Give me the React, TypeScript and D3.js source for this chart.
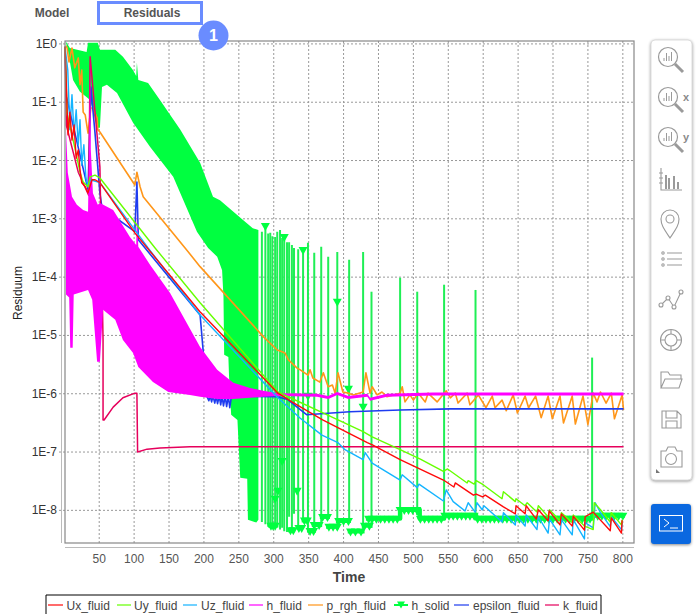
import React from "react";
import * as d3 from "d3";

// all series are [time, log10(residual)]
const xTicks = [50, 100, 150, 200, 250, 300, 350, 400, 450, 500, 550, 600, 650, 700, 750, 800];
const yExponents = [0, -1, -2, -3, -4, -5, -6, -7, -8];

const uxFluid = [[1, -0.05], [4, -1.1], [5.3, -1.56], [8, -1.17], [11, -1.65], [14, -1.39], [17, -1.96], [20, -1.82], [22.5, -2.16], [25, -2.38], [30, -2.45], [34, -2.55], [39.7, -2.33], [44, -2.33], [51, -2.38], [101, -3.24], [194, -4.59], [306, -5.99], [326, -6.14], [370, -6.45], [434, -6.84], [442, -6.88], [481, -7.13], [543, -7.48], [558, -7.6], [560, -7.53], [586, -7.74], [590, -7.72], [599, -7.77], [603, -7.74], [629, -7.94], [646, -8.06], [647, -7.92], [660, -8.06], [661.5, -7.92], [676, -8.15], [679, -7.99], [693, -8.18], [694.5, -8.01], [710, -8.25], [712, -8.06], [727.5, -8.27], [729, -8.1], [745, -8.34], [746, -8.11], [757.5, -8.03], [782, -8.35], [783.5, -8.13], [798, -8.39], [799, -8.17]];
const uyFluid = [[1, -0.05], [4, -1.2], [11, -1.56], [15, -1.78], [22.5, -2.2], [27, -2.37], [34, -2.45], [37, -2.28], [44, -2.25], [51, -2.3], [130, -3.5], [194.5, -4.44], [306, -5.97], [392, -6.45], [428, -6.65], [441, -6.74], [481, -6.96], [510, -7.12], [543, -7.33], [549, -7.29], [577, -7.53], [578.5, -7.49], [587, -7.55], [590, -7.49], [600, -7.56], [627, -7.8], [629, -7.68], [646, -7.85], [647, -7.8], [660, -7.92], [663, -7.87], [677, -8.03], [679, -7.92], [693, -8.11], [695, -7.99], [710, -8.18], [712, -8.04], [727.5, -8.21], [729, -8.08], [745, -8.27], [757.6, -8.33], [759, -7.87], [768, -7.99], [782, -8.2], [783.5, -8.04], [798, -8.25], [799, -8.16]];
const uzFluid = [[1, -0.05], [5, -0.45], [8, -1.47], [11, -0.87], [14, -1.56], [17, -1.13], [20, -1.73], [22.5, -1.3], [25, -2.08], [28, -1.73], [31, -2.3], [34, -2.45], [37, -2.33], [51, -2.38], [101, -3.19], [120, -3.5], [194.5, -4.65], [306, -6.07], [338, -6.42], [369, -6.71], [392, -6.84], [402, -6.96], [428, -7.13], [431, -7.01], [441, -7.19], [481, -7.48], [484, -7.39], [505.5, -7.61], [508, -7.55], [543, -7.84], [547, -7.65], [557, -7.85], [574, -8.01], [578.5, -7.87], [588.5, -8.03], [591, -7.87], [598.6, -7.99], [601, -7.92], [627, -8.2], [629, -8.04], [646, -8.25], [647, -8.08], [660, -8.27], [661.6, -8.08], [677, -8.33], [679, -8.11], [693, -8.39], [695, -8.15], [710, -8.42], [712, -8.16], [727.5, -8.42], [729, -8.16], [745, -8.49], [746, -8.21], [757.6, -8.3], [760.5, -7.87], [768, -8.04], [782, -8.28], [783.5, -8.11], [798, -8.33], [799, -8.21]];
const pRghFluid = [[2.4, -0.03], [4, -0.07], [6.7, -0.31], [11, -0.07], [15, -0.41], [20, -0.24], [22.5, -0.7], [25, -0.45], [27, -1.17], [30, -1.22], [34, -1.53], [38, -1.1], [41, -1.1], [47, -1.27], [48, -1.47], [51, -1.51], [101, -2.42], [104, -2.2], [108.5, -2.45], [113, -2.62], [173, -3.5], [194.5, -3.82], [285, -5.02], [305, -5.25], [312, -5.28], [316, -5.3], [321, -5.42], [333.5, -5.56], [338, -5.59], [349, -5.68], [352, -5.59], [356, -5.73], [366, -5.8], [371, -5.64], [378, -5.88], [384, -5.85], [388, -5.99], [392, -5.64], [399, -5.97], [407, -5.99], [414, -6.02], [428, -5.97], [432, -5.64], [438, -5.99], [441, -5.88], [448, -6.02], [455, -5.97], [462, -6.05], [481, -5.99], [484, -5.88], [488, -6.14], [495, -6.02], [500, -6.11], [507, -5.99], [517, -6.14], [521, -5.99], [534, -6.14], [547, -5.95], [553, -6.07], [560, -5.99], [564, -6.16], [577, -5.99], [581, -6.19], [593, -6.02], [604, -6.24], [613, -6.04], [617, -6.24], [627, -6.11], [633, -6.29], [643, -6.02], [649, -6.33], [660, -6.04], [665, -6.24], [675, -6.04], [683, -6.41], [693, -6.04], [699, -6.43], [710, -6.04], [715, -6.5], [727.5, -6.04], [732, -6.52], [743, -6.04], [750, -6.53], [757.6, -5.99], [763, -6.14], [768, -5.97], [776, -6.16], [783.5, -5.99], [788, -6.43], [799, -6.02], [801, -6.28]];
const epsilonFluid = [[1, -0.05], [3, -0.9], [34, -2.5], [38, -0.74], [44, -1.53], [51, -2.56], [54, -2.81], [101, -3.22], [104, -2.37], [106, -3.36], [194.5, -4.65], [204.5, -6.05], [207, -6.12], [209, -6.04], [211, -6.14], [213, -6.04], [215.5, -6.16], [217.5, -6.04], [219.5, -6.17], [222, -6.04], [224, -6.19], [226, -6.04], [228, -6.21], [230.5, -6.04], [232.5, -6.22], [235, -6.04], [237, -6.24], [239.5, -6.04], [305, -6.05], [320, -6.1], [347, -6.36], [409, -6.31], [481, -6.28], [553, -6.26], [801, -6.26]];
const kFluid = [[1, -0.05], [3, -1.4], [20, -2.2], [35, -2.6], [37, -0.22], [51, -2.11], [55.5, -5.08], [55.5, -6.45], [57, -6.45], [70, -6.23], [84, -6.07], [101, -5.99], [104, -5.99], [105, -7], [118.5, -6.95], [137, -6.93], [180, -6.91], [801, -6.91]];

// h_fluid oscillates too fast to read one by one, so its upper and lower envelope
const hFluidUpper = [[2.4, -1.47], [5, -2.21], [11, -2.62], [18, -2.76], [27, -2.85], [34, -2.88], [35.4, -1.82], [37, -0.22], [38, -1.82], [41, -2.56], [48, -2.76], [51, -2.73], [70, -2.85], [94, -3.31], [103, -3.45], [104, -2.9], [106, -3.48], [123, -3.79], [151.5, -4.27], [194.5, -5.2], [219, -5.59], [242, -5.81], [266, -5.9], [285, -5.95], [305, -5.99], [313, -5.99], [362, -6], [378, -6.04], [391, -5.97], [407, -6.04], [434, -6], [438, -6.07], [462, -6], [528, -5.98], [801, -5.98]];
const hFluidLower = [[2.4, -4.3], [7, -4.35], [8.5, -5.21], [12, -5.21], [13.5, -4.3], [34, -4.22], [40, -4.39], [47, -5.45], [51, -5.45], [55.5, -4.56], [73, -4.73], [84, -5.08], [98.5, -5.3], [106, -5.54], [127, -5.8], [149, -5.97], [180, -6.02], [194.5, -6.05], [219, -6.09], [242, -6.09], [266, -6.07], [285, -6.05], [305, -6.04], [313, -6.04], [362, -6.05], [378, -6.09], [391, -6.02], [407, -6.09], [434, -6.05], [438, -6.12], [462, -6.05], [528, -6.03], [801, -6.03]];

// h_solid: envelope of the dense part, then single spikes [time, top, bottom]
const hSolidUpper = [[1.7, 0.05], [8, -0.07], [32, -0.14], [34, 0.02], [48, 0.02], [51, -0.1], [73, -0.1], [84, -0.22], [98.5, -0.45], [103, -0.55], [104, -0.32], [106, -0.62], [120, -0.67], [137, -0.96], [166, -1.47], [194.5, -2.04], [213, -2.62], [223, -2.68], [256, -3.02], [270, -3.16], [278, -3.19]];
const hSolidLower = [[5, -0.1], [12.5, -0.62], [22.5, -0.82], [37, -0.96], [47, -1.44], [51, -1.44], [54, -0.74], [61, -0.7], [75.5, -0.84], [98.5, -1.35], [123, -1.77], [156, -2.28], [190, -3.22], [206, -3.5], [219, -3.65], [226, -3.88], [228, -4.34], [229, -5.33], [235, -5.37], [236, -5.71], [239, -6.36], [248, -6.45], [252, -7.44], [262, -7.46], [263, -8.16], [275, -8.21], [278, -8.16]];
const hSolidSpikes = [[283, -3.22, -8.2], [288, -3.14, -8.24], [292, -3.25, -8.28], [295, -3.24, -8.3], [298, -3.3, -8.28], [302, -3.31, -8.25], [305, -3.22, -8.28], [309, -3.19, -8.33], [312, -3.33, -8.3], [315, -3.35, -8.36], [319, -3.4, -8.37], [322, -3.4, -8.11], [326, -3.45, -8.34], [329, -3.5, -8.06], [335, -3.52, -8.32], [342, -3.53, -8.2], [349, -3.41, -8.37], [358, -3.58, -8.39], [368, -3.48, -8.28], [378, -3.65, -8.15], [391, -3.57, -8.33], [408, -3.7, -8.21], [428, -3.57, -8.39], [440, -4.25, -8.3], [481, -4.01, -8.08], [505.5, -4.25, -8.08], [544, -4.13, -8.13], [589, -4.22, -8.11], [756, -5.38, -8.08]];
const hSolidMarkers = [[288, -3.14], [315, -3.33], [342, -3.55], [391, -4.44], [407, -5.93], [428, -6.24], [349, -6.05], [312, -7.17], [306, -7.68], [302, -7.82], [333.5, -7.68], [296, -8.28], [302, -8.28], [299, -8.28], [324, -8.36], [328, -8.36], [336, -8.32], [340, -8.32], [344, -8.19], [348, -8.19], [352, -8.37], [357, -8.37], [358, -8.27], [365, -8.27], [370, -8.13], [377, -8.13], [379, -8.3], [385, -8.3], [391, -8.3], [393, -8.2], [400, -8.2], [407, -8.2], [410, -8.38], [417, -8.38], [425, -8.38], [430, -8.28], [437, -8.28]];
const hSolidFloorLeft = [[292, 306.5, -8.28], [320.6, 330.6, -8.36], [333, 342, -8.32], [340, 351, -8.19], [348, 360, -8.37], [354.5, 369, -8.27], [366, 380.5, -8.13], [375, 393, -8.3], [389, 410.5, -8.2], [406, 430, -8.38], [426, 441, -8.28]];
const floorA = [436, 441, 447, 453, 459, 465, 471, 477];
const floorB = [481, 487, 493, 499, 505];
const floorC = [510, 516, 522, 528, 534, 540];
const floorD = [545, 551, 557, 563, 569, 575, 581, 587];
const floorE = [592, 598, 604, 610, 616, 622, 628, 634, 640, 646, 652, 658, 664, 670, 676, 682, 688, 694, 700, 706, 712, 718, 724, 730, 736, 742, 748, 753];
const floorF = [758, 764, 770, 776, 782, 788, 794, 800];
const floorLine = [[432, -8.14], [481, -8.14], [481, -7.99], [509, -7.99], [509, -8.14], [544, -8.14], [544, -8.09], [590, -8.09], [590, -8.14], [756, -8.14], [756, -8.09], [803, -8.09]];

const seriesColors = { ux: "#ff0a0a", uy: "#66ff00", uz: "#14b4ff", h: "#ff00ff", p: "#ff9619", solid: "#00ff40", eps: "#1e3cf0", k: "#e6005c" };

const legendItems = [
  { name: "Ux_fluid", color: seriesColors.ux, x1: 48, x2: 63, tx: 66.5 },
  { name: "Uy_fluid", color: seriesColors.uy, x1: 117, x2: 131, tx: 134 },
  { name: "Uz_fluid", color: seriesColors.uz, x1: 183, x2: 197, tx: 201 },
  { name: "h_fluid", color: seriesColors.h, x1: 249, x2: 263, tx: 266.5 },
  { name: "p_rgh_fluid", color: seriesColors.p, x1: 308, x2: 323, tx: 326.5 },
  { name: "h_solid", color: seriesColors.solid, x1: 394, x2: 408, tx: 411.5, marker: true },
  { name: "epsilon_fluid", color: seriesColors.eps, x1: 454, x2: 469, tx: 473 },
  { name: "k_fluid", color: seriesColors.k, x1: 545, x2: 559, tx: 563 },
];

const FONT = '"Liberation Sans", Arial, sans-serif';
const LEFT = 65;
const RIGHT = 634;
const TOP = 41;
const BOTTOM = 543;
const ICON = "#9a9a9a";

const x = d3.scaleLinear().domain([1, 816]).range([LEFT, RIGHT]);
const y = d3.scaleLog().domain([10 ** 0.05, 10 ** -8.56]).range([TOP, BOTTOM]);
const line = d3.line<number[]>().x((d) => x(d[0])).y((d) => y(10 ** d[1]));
const band = (upper: number[][], lower: number[][]) => line([...upper, ...[...lower].reverse()]) + "Z";
const triangle = "M-4.5,-4L4.5,-4L0,4Z";

function Series({ data, color, width = 1.4 }: { data: number[][]; color: string; width?: number }) {
  return <path d={line(data) || ""} fill="none" stroke={color} strokeWidth={width} strokeLinejoin="round" />;
}

function Lens({ cx, cy, label }: { cx: number; cy: number; label?: string }) {
  return (
    <g transform={`translate(${cx},${cy})`} fill="none" stroke={ICON}>
      <circle cx={-2} cy={-3} r={9.5} strokeWidth={1.2} />
      <path d="M5,4L13,12" strokeWidth={3} />
      <path d="M-6,1V-2M-3.5,1V-7M-1,1V-4M1.5,1V-8" strokeWidth={1} />
      {label && <text x={13} y={1} fontFamily={FONT} fontSize={11} fontWeight="bold" fill="#8a8a8a" stroke="none">{label}</text>}
    </g>
  );
}

function Toolbar() {
  return (
    <g>
      <rect x={651} y={40} width={41} height={440} rx={4} fill="#fff" stroke="#ddd" style={{ filter: "drop-shadow(0px 1px 1.5px #999)" }} />
      <Lens cx={670} cy={60} />
      <Lens cx={670} cy={100} label="x" />
      <Lens cx={670} cy={140} label="y" />
      <g fill="none" stroke={ICON} strokeWidth={1.1}>
        <path d="M661,168V190H682M659,173H663M659,178H663M659,183H663" />
        <path d="M666,189V175M669,189V178M674,189V176M678,189V182" strokeWidth={2} />
        <path d="M670,238C664,229 661,225 661,219A9,9 0 0 1 679,219C679,225 676,229 670,238Z" />
        <circle cx={670} cy={219} r={4} />
        <path d="M667,253H682M667,259H682M667,265H682" />
        <circle cx={663} cy={253} r={1.2} />
        <circle cx={663} cy={259} r={1.2} />
        <circle cx={663} cy={265} r={1.2} />
        <path d="M661,305L668,298L674,307L681,292" />
        <circle cx={661} cy={305} r={2} fill="#fff" />
        <circle cx={668} cy={298} r={2} fill="#fff" />
        <circle cx={674} cy={307} r={2} fill="#fff" />
        <circle cx={681} cy={292} r={2} fill="#fff" />
        <circle cx={671} cy={340} r={10.5} />
        <circle cx={671} cy={340} r={6} />
        <path d="M671,329.5V334M671,346V350.5M660.5,340H665M677,340H681.5" />
        <path d="M661,388V372H668L670,375H681V379M661,388L665,379H682L679,388Z" />
        <path d="M662,411H677L681,415V428H662ZM666,411V418H677V411M666,428V421H677V428" />
        <path d="M661,451H666L668,447H675L677,451H682V467H661Z" />
        <circle cx={671} cy={459} r={5.5} />
      </g>
      <path d="M656,469L660,473H656Z" fill="#777" />
      <rect x={651} y={504} width={40} height={40} rx={3} fill="#0a68e0" style={{ filter: "drop-shadow(0px 1px 1.5px #888)" }} />
      <rect x={659.5} y={515.5} width={23} height={15.5} fill="none" stroke="#fff" />
      <path d="M664,519L669,523L664,527M670,528H678" fill="none" stroke="#fff" />
    </g>
  );
}

export default function App() {
  const floors: [number[], number][] = [[floorA, -8.16], [floorB, -8.01], [floorC, -8.16], [floorD, -8.11], [floorE, -8.16], [floorF, -8.11]];
  return (
    <svg width={698} height={614} style={{ position: "absolute", left: 0, top: 0, display: "block", background: "#fff" }} fontFamily={FONT}>
      {/* grid */}
      <g stroke="#999" strokeDasharray="2,2" strokeWidth={1}>
        {yExponents.map((e) => <line key={e} x1={59} x2={RIGHT} y1={y(10 ** e)} y2={y(10 ** e)} />)}
        {xTicks.map((t) => <line key={t} x1={x(t)} x2={x(t)} y1={TOP} y2={BOTTOM} />)}
      </g>

      {/* h_solid is drawn first, the other series sit on top of it */}
      <path d={band(hSolidUpper, hSolidLower)} fill={seriesColors.solid} />
      {hSolidSpikes.map((d) => (
        <line key={d[0]} x1={x(d[0])} x2={x(d[0])} y1={y(10 ** d[1])} y2={y(10 ** d[2])} stroke="#1fef55" strokeWidth={2} />
      ))}
      <Series data={floorLine} color={seriesColors.solid} width={4.5} />
      {hSolidFloorLeft.map((d, i) => (
        <line key={i} x1={x(d[0])} x2={x(d[1])} y1={y(10 ** d[2]) - 1} y2={y(10 ** d[2]) - 1} stroke={seriesColors.solid} strokeWidth={4} />
      ))}
      {floors.map(([times, e]) => times.map((t) => (
        <path key={t} d={triangle} transform={`translate(${x(t)},${y(10 ** e)})`} fill={seriesColors.solid} />
      )))}
      {hSolidMarkers.map((d, i) => (
        <path key={i} d={triangle} transform={`translate(${x(d[0])},${y(10 ** d[1])})`} fill={seriesColors.solid} />
      ))}

      <Series data={pRghFluid} color={seriesColors.p} width={1.6} />
      <Series data={epsilonFluid} color={seriesColors.eps} width={1.6} />
      <Series data={kFluid} color={seriesColors.k} width={1.5} />
      <path d={band(hFluidUpper, hFluidLower)} fill={seriesColors.h} />
      <Series data={uzFluid} color={seriesColors.uz} />
      <Series data={uyFluid} color={seriesColors.uy} />
      <Series data={uxFluid} color={seriesColors.ux} />

      {/* frame and axes */}
      <rect x={LEFT} y={TOP} width={RIGHT - LEFT} height={BOTTOM - TOP} fill="none" stroke="#888" strokeWidth={1.2} />
      <line x1={61.5} x2={61.5} y1={TOP} y2={543} stroke="#bbb" />
      <line x1={LEFT} x2={RIGHT} y1={547.5} y2={547.5} stroke="#bbb" />

      <g fontSize={12} fill="#333" textAnchor="end">
        {yExponents.map((e) => <text key={e} x={57} y={y(10 ** e) + 4}>{`1E${e}`}</text>)}
      </g>
      <g fontSize={12} fill="#555" textAnchor="middle">
        {xTicks.map((t) => <text key={t} x={x(t)} y={563}>{t}</text>)}
      </g>
      <text x={349} y={582} fontSize={14} fontWeight="bold" fill="#444" textAnchor="middle">Time</text>
      <text transform="translate(22,293) rotate(-90)" fontSize={12} fill="#222" textAnchor="middle">Residuum</text>

      {/* legend, the box runs off the bottom of the page */}
      <path d="M46,614V595H601V614" fill="none" stroke="#000" />
      {legendItems.map((d) => (
        <g key={d.name}>
          <line x1={d.x1} x2={d.x2} y1={605} y2={605} stroke={d.color} strokeWidth={2} opacity={d.marker ? 1 : 0.6} />
          {d.marker && <path d="M-4,-3.5L4,-3.5L0,3.5Z" transform={`translate(${(d.x1 + d.x2) / 2},605)`} fill={d.color} />}
          <text x={d.tx} y={609.5} fontSize={12} fill="#444">{d.name}</text>
        </g>
      ))}

      {/* tabs and badge */}
      <text x={52} y={17} fontSize={12} fontWeight="bold" fill="#555" textAnchor="middle">Model</text>
      <rect x={98.5} y={2.5} width={103} height={21} fill="#fff" stroke="#6a8cff" strokeWidth={3} />
      <text x={152} y={17} fontSize={12} fontWeight="bold" fill="#555" textAnchor="middle">Residuals</text>
      <circle cx={213.5} cy={35.5} r={15} fill="#6a8cff" />
      <text x={213.5} y={41} fontSize={16} fontWeight="bold" fill="#fff" textAnchor="middle">1</text>

      <Toolbar />
    </svg>
  );
}
